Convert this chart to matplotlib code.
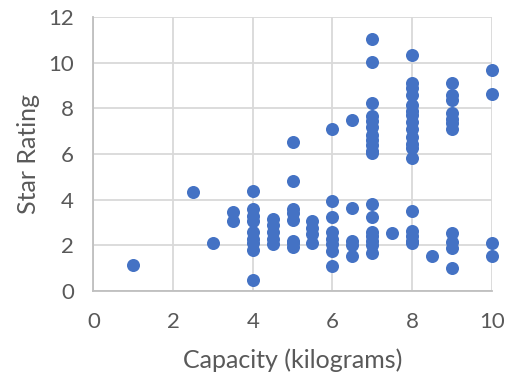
import matplotlib
matplotlib.use('Agg')
import matplotlib.pyplot as plt

plt.rcParams['font.family'] = ['Lato', 'DejaVu Sans']

# 容量ごとの評価値 (capacity -> star ratings)
cap_1 = [1.0]
rat_1 = [1.15]
cap_2_5 = [2.5]
rat_2_5 = [4.35]
cap_3 = [3.0]
rat_3 = [2.1]
rat_3_5 = [3.45, 3.05]
rat_4 = [4.4, 3.6, 3.3, 3.05, 2.6, 2.3, 2.1, 1.8, 0.5]
rat_4_5 = [3.15, 2.9, 2.6, 2.3, 2.05]
rat_5 = [6.55, 4.8, 3.6, 3.4, 3.1, 2.2, 2.1, 1.95]
rat_5_5 = [3.05, 2.75, 2.5, 2.1]
rat_6 = [7.1, 3.95, 3.25, 2.6, 2.3, 2.05, 1.75, 1.1]
rat_6_5 = [7.5, 3.65, 2.2, 2.0, 1.55]
rat_7 = [11.05, 10.05, 8.25, 7.65, 7.45, 7.2, 6.85, 6.6, 6.4, 6.15, 6.05,
         3.8, 3.25, 2.6, 2.4, 2.2, 2.0, 1.65]
rat_7_5 = [2.55]
rat_8 = [10.35, 9.1, 8.9, 8.6, 8.15, 7.9, 7.7, 7.4, 7.1, 6.75, 6.45, 6.25, 5.85,
         3.5, 2.65, 2.4, 2.2, 2.1]
rat_8_5 = [1.55]
rat_9 = [9.1, 8.6, 8.35, 7.8, 7.55, 7.35, 7.1, 2.55, 2.15, 1.9, 1.0]
rat_10 = [9.7, 8.65, 2.1, 1.55]

groups = [
    (1.0, rat_1), (2.5, rat_2_5), (3.0, rat_3), (3.5, rat_3_5), (4.0, rat_4),
    (4.5, rat_4_5), (5.0, rat_5), (5.5, rat_5_5), (6.0, rat_6), (6.5, rat_6_5),
    (7.0, rat_7), (7.5, rat_7_5), (8.0, rat_8), (8.5, rat_8_5), (9.0, rat_9),
    (10.0, rat_10),
]

xs = [c for c, rs in groups for _ in rs]
ys = [r for _, rs in groups for r in rs]

x_ticks = [0, 2, 4, 6, 8, 10]
y_ticks = [0, 2, 4, 6, 8, 10, 12]

fig = plt.figure(figsize=(5.16, 3.8), dpi=100)
ax = fig.add_axes([0.181, 0.234, 0.772, 0.721])

ax.scatter(xs, ys, s=88, color='#4472C4', linewidths=0, zorder=3, clip_on=False)

ax.set_xlim(0, 10)
ax.set_ylim(0, 12)
ax.set_xticks(x_ticks)
ax.set_yticks(y_ticks)
ax.grid(True, color='#D9D9D9', linewidth=1.3)
ax.set_axisbelow(True)
for side in ['top', 'right']:
    ax.spines[side].set_visible(False)
for side in ['left', 'bottom']:
    ax.spines[side].set_color('#BFBFBF')
    ax.spines[side].set_linewidth(1.3)
ax.tick_params(length=0, labelsize=16, colors='#595959')
ax.tick_params(axis='x', pad=15)
ax.tick_params(axis='y', pad=14)
ax.set_xlabel('Capacity (kilograms)', fontsize=18, color='#595959', labelpad=12)
ax.set_ylabel('Star Rating', fontsize=18, color='#595959', labelpad=6)

fig.savefig('out.png', dpi=100)
